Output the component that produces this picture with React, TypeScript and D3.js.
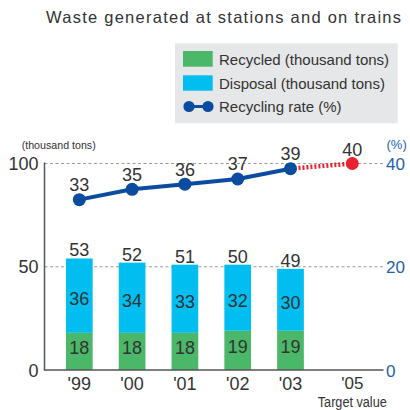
import React from "react";
import * as d3 from "d3";

// Waste generated at stations and on trains, fiscal years
const years = ["'99", "'00", "'01", "'02", "'03"];
const recycled = [18, 18, 18, 19, 19];
const disposal = [36, 34, 33, 32, 30];
const totals = [53, 52, 51, 50, 49];
const recyclingRate = [33, 35, 36, 37, 39];
const targetYear = "'05";
const targetRate = 40;
const leftTicks = [0, 50, 100];
const rightTicks = [0, 20, 40];

const FONT = "'Liberation Sans', Arial, Helvetica, sans-serif";
const GREEN = "#4ab868";
const CYAN = "#00bef0";
const NAVY = "#0b4ca0";
const RED = "#e8232d";
const AXIS_BLUE = "#2262ae";
const TEXT = "#333333";

export default function App() {
  const x = d3.scalePoint<string>().domain(years).range([79.3, 290.5]);
  const targetX = (x(years[years.length - 1]) as number) + x.step() * 1.17;
  const yLeft = d3.scaleLinear().domain([0, 100]).range([370, 163.5]);
  const yRight = d3.scaleLinear().domain([0, 40]).range([370, 163.5]);
  const barW = 26.7;
  const plotLeft = 44.5;
  const plotRight = 383.5;

  const rows = years.map((y, i) => ({ year: y, recycled: recycled[i], disposal: disposal[i] }));
  const stacked = d3.stack<any>().keys(["recycled", "disposal"])(rows);

  const line = d3
    .line<number>()
    .x((_, i) => x(years[i]) as number)
    .y((d) => yRight(d));

  const lastX = x(years[years.length - 1]) as number;
  const lastY = yRight(recyclingRate[recyclingRate.length - 1]);

  return (
    <svg
      width={410}
      height={410}
      style={{ position: "absolute", left: 0, top: 0, background: "#fff" }}
      fontFamily={FONT}
    >
      {/* title */}
      <text x={46} y={22.5} fontSize={16.5} fill={TEXT} textLength={355} lengthAdjust="spacing">
        Waste generated at stations and on trains
      </text>

      {/* legend */}
      <g>
        <rect x={175} y={43.3} width={222.7} height={80} fill="#e6e7e8" />
        <rect x={183} y={51} width={29.7} height={15.7} fill={GREEN} />
        <rect x={183} y={75.3} width={29.7} height={15.4} fill={CYAN} />
        <line x1={189} x2={208} y1={106.5} y2={106.5} stroke={NAVY} strokeWidth={3} />
        <circle cx={189} cy={106.5} r={5.6} fill={NAVY} />
        <circle cx={208} cy={106.5} r={5.6} fill={NAVY} />
        <text x={219} y={64.5} fontSize={15} fill={TEXT}>Recycled (thousand tons)</text>
        <text x={219} y={88.5} fontSize={15} fill={TEXT}>Disposal (thousand tons)</text>
        <text x={219} y={111.5} fontSize={15} fill={TEXT}>Recycling rate (%)</text>
      </g>

      {/* axis titles */}
      <text x={21.7} y={149} fontSize={11} fill={TEXT} textLength={74} lengthAdjust="spacingAndGlyphs">
        (thousand tons)
      </text>
      <text x={386.5} y={149} fontSize={13} fill={AXIS_BLUE}>(%)</text>

      {/* dashed gridlines */}
      {leftTicks
        .filter((t) => t > 0)
        .map((t) => (
          <line
            key={t}
            x1={plotLeft}
            x2={plotRight}
            y1={yLeft(t)}
            y2={yLeft(t)}
            stroke="#9c9c9c"
            strokeWidth={1}
            strokeDasharray="3,2.5"
          />
        ))}

      {/* left tick labels */}
      {leftTicks.map((t) => (
        <text key={t} x={38.5} y={yLeft(t) + 6.5} fontSize={18} fill={TEXT} textAnchor="end">
          {t}
        </text>
      ))}

      {/* right tick labels */}
      {rightTicks.map((t) => (
        <text key={t} x={386} y={yRight(t) + 6.5} fontSize={17} fill={AXIS_BLUE}>
          {t}
        </text>
      ))}

      {/* stacked bars */}
      {stacked.map((layer, li) =>
        layer.map((seg, i) => {
          const top = yLeft(seg[1]);
          const bottom = yLeft(seg[0]);
          const cx = x(years[i]) as number;
          const value = li === 0 ? recycled[i] : disposal[i];
          const mid = (top + bottom) / 2;
          return (
            <g key={`${li}-${i}`}>
              <rect x={cx - barW / 2} y={top} width={barW} height={bottom - top} fill={li === 0 ? GREEN : CYAN} />
              <text x={cx} y={mid + (li === 0 ? 2.5 : 9)} fontSize={18} fill={TEXT} textAnchor="middle">
                {value}
              </text>
            </g>
          );
        })
      )}

      {/* totals above bars */}
      {totals.map((t, i) => (
        <text
          key={i}
          x={x(years[i]) as number}
          y={yLeft(recycled[i] + disposal[i]) - 2}
          fontSize={18}
          fill={TEXT}
          textAnchor="middle"
        >
          {t}
        </text>
      ))}

      {/* axes */}
      <line x1={plotLeft} x2={plotLeft} y1={yLeft(100) - 1} y2={yLeft(0)} stroke="#555" strokeWidth={1.5} />
      <line x1={plotLeft - 0.7} x2={plotRight} y1={yLeft(0)} y2={yLeft(0)} stroke="#555" strokeWidth={1.6} />

      {/* x labels */}
      {years.map((y) => (
        <text key={y} x={x(y) as number} y={390} fontSize={18} fill={TEXT} textAnchor="middle">
          {y}
        </text>
      ))}
      <text x={targetX} y={389} fontSize={17} fill={TEXT} textAnchor="middle">
        {targetYear}
      </text>
      <text
        x={targetX}
        y={406.5}
        fontSize={14}
        fill={TEXT}
        textAnchor="middle"
        textLength={69}
        lengthAdjust="spacingAndGlyphs"
      >
        Target value
      </text>

      {/* target segment */}
      <line
        x1={lastX}
        y1={lastY}
        x2={targetX}
        y2={yRight(targetRate)}
        stroke={RED}
        strokeWidth={4.5}
        strokeDasharray="2,2"
      />

      {/* recycling rate line */}
      <path d={line(recyclingRate) || ""} fill="none" stroke={NAVY} strokeWidth={4} strokeLinejoin="round" />
      {recyclingRate.map((r, i) => (
        <g key={i}>
          <circle cx={x(years[i]) as number} cy={yRight(r)} r={6.5} fill={NAVY} />
          <text x={x(years[i]) as number} y={yRight(r) - 8.5} fontSize={18} fill={TEXT} textAnchor="middle">
            {r}
          </text>
        </g>
      ))}
      <circle cx={targetX} cy={yRight(targetRate)} r={6.5} fill={RED} />
      <text x={targetX} y={yRight(targetRate) - 8} fontSize={18} fill={TEXT} textAnchor="middle">
        {targetRate}
      </text>
    </svg>
  );
}
